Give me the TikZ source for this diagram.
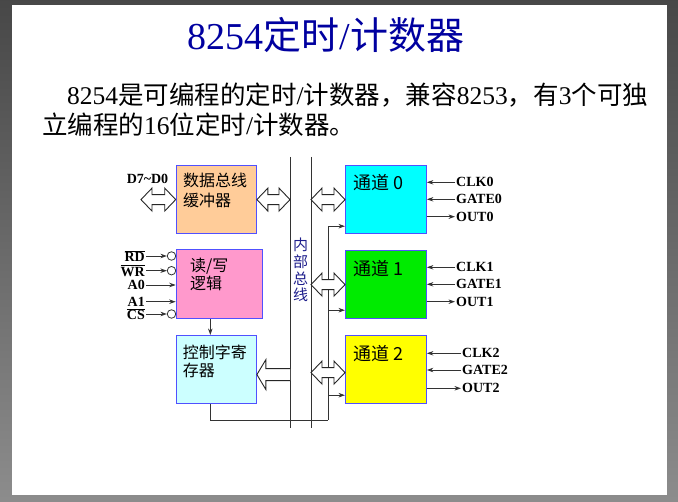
\documentclass[tikz,border=0pt]{standalone}
\usepackage{fontspec}
\setmainfont{Liberation Serif}
\newfontfamily\cjk{Noto Sans CJK SC}
\usetikzlibrary{calc,arrows.meta}

\definecolor{titleblue}{RGB}{0,0,160}
\definecolor{busnavy}{RGB}{30,30,140}
\definecolor{edgeblue}{RGB}{80,80,255}
\definecolor{bufpeach}{RGB}{255,204,153}
\definecolor{rwpink}{RGB}{255,153,204}
\definecolor{regcyan}{RGB}{204,255,255}
\definecolor{chcyan}{RGB}{0,255,255}
\definecolor{chgreen}{RGB}{0,235,0}
\definecolor{chyellow}{RGB}{255,255,0}

% hollow double-headed bus arrow between two points (same height as the first)
\newcommand{\busarrow}[2]{%
\draw[hollow] let \p1=#1, \p2=#2 in
  (\x1,\y1) -- (\x1+11pt,\y1+11.5pt) -- (\x1+11pt,\y1+5pt) -- (\x2-11pt,\y1+5pt)
  -- (\x2-11pt,\y1+11.5pt) -- (\x2,\y1) -- (\x2-11pt,\y1-11.5pt) -- (\x2-11pt,\y1-5pt)
  -- (\x1+11pt,\y1-5pt) -- (\x1+11pt,\y1-11.5pt) -- cycle;}

\begin{document}
\begin{tikzpicture}[x=1pt, y=-1pt, >={Stealth[length=6.5pt,width=4.5pt]},
  unit/.style={draw=edgeblue, line width=1.2pt, inner sep=0pt, anchor=north west},
  boxtext/.style={anchor=north west, align=left, inner sep=0pt},
  chtext/.style={anchor=west, inner sep=0pt, font={\cjk\fontsize{18}{20}\selectfont}},
  sig/.style={inner sep=1pt, font={\fontsize{14}{16}\selectfont\bfseries}},
  neg/.style={circle, draw=black!80, fill=white, line width=0.8pt, inner sep=0pt, minimum size=8.5pt},
  wire/.style={draw=black!80, line width=0.8pt},
  busline/.style={draw=black!80, line width=1pt},
  hollow/.style={draw=black!85, fill=white, line width=0.9pt, line join=miter}]
\useasboundingbox (0,0) rectangle (678,502);
\shade[top color=black!72, bottom color=black!45] (0,0) rectangle (678,502);
\fill[white] (12,5) rectangle (667,495);

% heading and text
\node (title) at (326,35) [text=titleblue, font=\fontsize{38}{40}\selectfont] {8254{\cjk 定时}/{\cjk 计数器}};
\node (line1) at (67,95) [anchor=west, inner sep=0pt, font=\fontsize{25.5}{30}\selectfont] {8254{\cjk 是可编程的定时}/{\cjk 计数器，兼容}8253{\cjk ，有}3{\cjk 个可独}};
\node (line2) at (42,125) [anchor=west, inner sep=0pt, font=\fontsize{25.5}{30}\selectfont] {{\cjk 立编程的}16{\cjk 位定时}/{\cjk 计数器。}};

% internal bus
\coordinate (busL) at (290,157);
\coordinate (busR) at (311,157);
\draw[busline] (busL) -- (busL |- 0,428);
\draw[busline] (busR) -- (busR |- 0,428);
\node (buslabel) at (300.5,270) [align=center, inner sep=0pt, text=busnavy, font={\cjk\fontsize{15}{16.7}\selectfont}] {内\\部\\总\\线};

% blocks
\node (buf) at (175.7,165) [unit, fill=bufpeach, minimum width=80pt, minimum height=68pt] {};
\node (rw) at (175.7,249.3) [unit, fill=rwpink, minimum width=86pt, minimum height=69pt] {};
\node (ctrl) at (175.7,335) [unit, fill=regcyan, minimum width=80pt, minimum height=68pt] {};
\node (ch0) at (345,165) [unit, fill=chcyan, minimum width=80.7pt, minimum height=68pt] {};
\node (ch1) at (345,250) [unit, fill=chgreen, minimum width=80.7pt, minimum height=68pt] {};
\node (ch2) at (345,335) [unit, fill=chyellow, minimum width=80.7pt, minimum height=68pt] {};

\node (buftxt) at (183,173) [boxtext, font={\cjk\fontsize{16}{20}\selectfont}] {数据总线\\缓冲器};
\node (rwtxt) at (190,258) [boxtext, font={\cjk\fontsize{16}{18}\selectfont}] {读/写\\逻辑};
\node (ctrltxt) at (182.7,344.5) [boxtext, font={\cjk\fontsize{16}{18.5}\selectfont}] {控制字寄\\存器};
\node (ch0txt) at (353,183) [chtext] {通道 0};
\node (ch1txt) at (353,268.3) [chtext] {通道 1};
\node (ch2txt) at (353,353.3) [chtext] {通道 2};

% control word register to the channels
\coordinate (wtop) at ([xshift=-6pt]ctrl.north);
\coordinate (wbot) at ([xshift=-6pt]ctrl.south);
\coordinate (tap) at (328,420);
\coordinate (in0) at ([yshift=8pt]ch0.south west);
\coordinate (in1) at ([yshift=9pt]ch1.south west);
\coordinate (in2) at ([yshift=9pt]ch2.south west);
\draw[wire,->] (wtop |- rw.south) -- (wtop);
\draw[wire] (wbot) |- (tap);
\draw[wire,->] (tap) |- (in0);
\draw[wire,->] (tap |- in1) -- (in1);
\draw[wire,->] (tap |- in2) -- (in2);

% data paths
\coordinate (dpin) at (buf.west -| 141,0);
\busarrow{(dpin)}{(buf.west)}
\busarrow{(buf.east)}{(buf.east -| busL)}
\busarrow{(ch0.west -| busR)}{(ch0.west)}
\busarrow{(ch1.west -| busR)}{(ch1.west)}
\busarrow{([yshift=-3pt]ch2.west -| busR)}{([yshift=-3pt]ch2.west)}
\draw[hollow] let \p1=(busL), \p2=([yshift=-5pt]ctrl.east) in
  (\x1,\y2+6pt) -- (\x2+9pt,\y2+6pt) -- (\x2+9pt,\y2+15pt) -- (\x2,\y2)
  -- (\x2+9pt,\y2-15pt) -- (\x2+9pt,\y2-6pt) -- (\x1,\y2-6pt);

% pins on the left
\node (dbus) at (147.5,179) [sig] {D7\textasciitilde D0};
\node (rd) at (146,256) [sig, anchor=east] {$\overline{\hbox{RD}}$};
\node (wr) at (146,270.7) [sig, anchor=east] {$\overline{\hbox{WR}}$};
\node (a0) at (146,285) [sig, anchor=east] {A0};
\node (a1) at (146,301.7) [sig, anchor=east] {A1};
\node (cs) at (146,314) [sig, anchor=east] {$\overline{\hbox{CS}}$};
\node (nrd) at (171.5,256) [neg] {};
\node (nwr) at (171.5,270.7) [neg] {};
\node (ncs) at (171.5,314) [neg] {};
\draw[wire,->] (rd) -- (nrd);
\draw[wire,->] (wr) -- (nwr);
\draw[wire,->] (a0) -- (a0 -| rw.west);
\draw[wire,->] (a1) -- (a1 -| rw.west);
\draw[wire,->] (cs) -- (ncs);

% pins on the right
\node (clk0) at (455,182.3) [sig, anchor=west] {CLK0};
\node (gate0) at (455,199.3) [sig, anchor=west] {GATE0};
\node (out0) at (455,216.7) [sig, anchor=west] {OUT0};
\node (clk1) at (455,267.3) [sig, anchor=west] {CLK1};
\node (gate1) at (455,284.3) [sig, anchor=west] {GATE1};
\node (out1) at (455,301.7) [sig, anchor=west] {OUT1};
\node (clk2) at (461,353.3) [sig, anchor=west] {CLK2};
\node (gate2) at (461,370) [sig, anchor=west] {GATE2};
\node (out2) at (461,388.3) [sig, anchor=west] {OUT2};
\draw[wire,->] (clk0) -- (ch0.east |- clk0);
\draw[wire,->] (gate0) -- (ch0.east |- gate0);
\draw[wire,->] (ch0.east |- out0) -- (out0);
\draw[wire,->] (clk1) -- (ch1.east |- clk1);
\draw[wire,->] (gate1) -- (ch1.east |- gate1);
\draw[wire,->] (ch1.east |- out1) -- (out1);
\draw[wire,->] (clk2) -- (ch2.east |- clk2);
\draw[wire,->] (gate2) -- (ch2.east |- gate2);
\draw[wire,->] (ch2.east |- out2) -- (out2);
\end{tikzpicture}
\end{document}
